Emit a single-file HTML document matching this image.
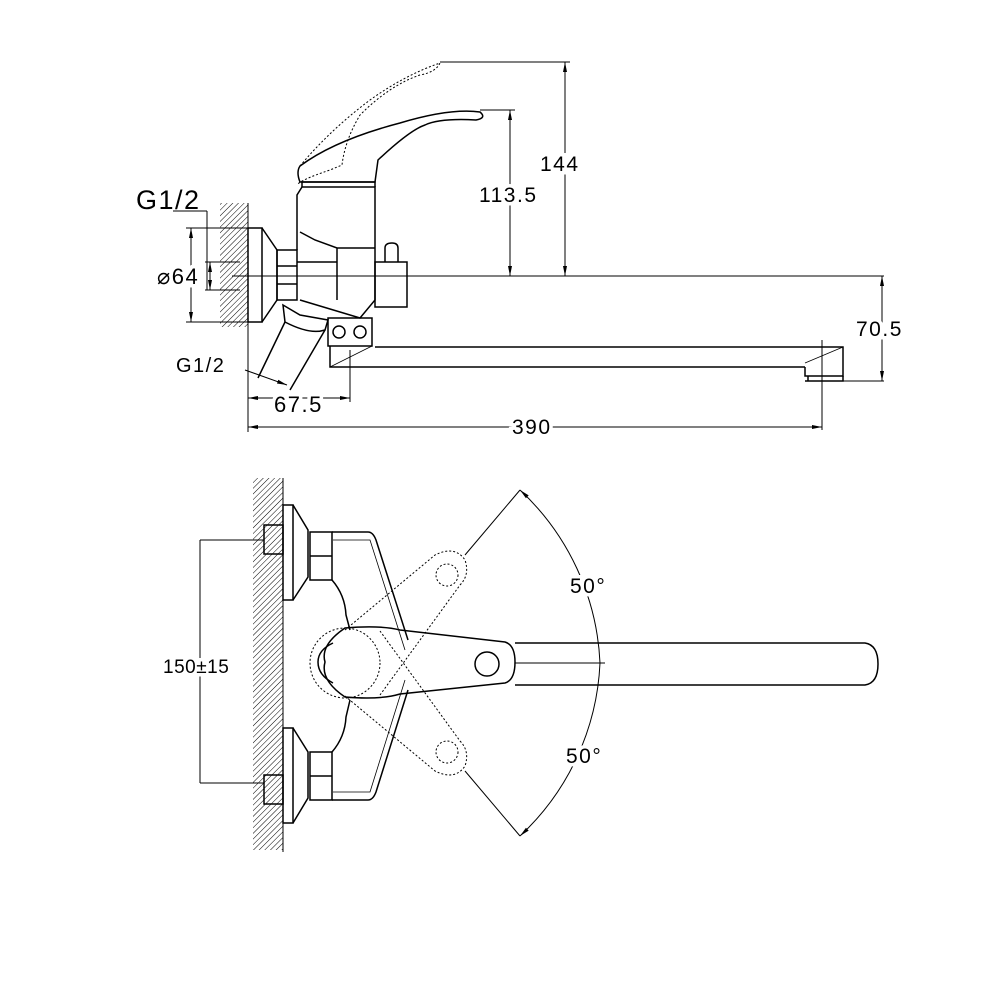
<!DOCTYPE html>
<html><head><meta charset="utf-8"><style>html,body{margin:0;padding:0;background:#fff}svg{display:block}text{font-family:"Liberation Sans",sans-serif;fill:#000;letter-spacing:1.5px}.w{paint-order:stroke;stroke:#fff;stroke-width:7px}</style></head>
<body>
<svg width="1000" height="1000" viewBox="0 0 1000 1000" xmlns="http://www.w3.org/2000/svg">
<defs>
<pattern id="h" width="4" height="4" patternUnits="userSpaceOnUse" patternTransform="rotate(45)">
<line x1="0" y1="0" x2="0" y2="4" stroke="#000" stroke-width="1"/></pattern>
<marker id="a" markerWidth="10" markerHeight="6" refX="10" refY="3" orient="auto-start-reverse" markerUnits="userSpaceOnUse"><path d="M0,1 L10,3 L0,5z" fill="#000"/></marker>
</defs>
<g fill="none" stroke="#000" stroke-width="1">
<!-- TOP VIEW -->
<rect x="220" y="203" width="28" height="124" fill="url(#h)" stroke="none"/>
<line x1="248" y1="203" x2="248" y2="432"/>
<g stroke-width="1.5">
<rect x="248" y="228" width="14" height="94"/>
<path d="M262,228 L277,250 L277,300 L262,322"/>
<path d="M277,250 L297,250 L297,300 L277,300 Z M277,266 H297 M277,284 H297"/>
<path d="M297,250 L297,195 L302,187 L375,187 L375,262 L375,300 L360,318 L300,300"/>
<path d="M302,187 L302,182 L375,182 L375,187"/>
<path d="M300,232 L315,240 L337,248 L375,248 M337,248 L337,300 M297,262 H337"/>
<rect x="375" y="262" width="32" height="45"/>
<path d="M385,262 V248 Q385,243 392,243 Q398,243 398,248 V262"/>
<path d="M300,166 Q335,140 400,123 Q450,108 480,112 Q487,118 476,120 Q440,118 425,125 Q410,130 378,160 L375,182 L300,182 Q296,172 300,166 Z"/>
<path d="M283,305 L300,315 L328,320 L325,330 Q310,335 285,322 Z"/>
<path d="M285,322 L258,378 M325,330 L290,390"/>
<rect x="328" y="318" width="44" height="28"/>
<circle cx="339" cy="332" r="6"/><circle cx="360" cy="332" r="6"/>
<path d="M330,346 L330,367 L805,367 M375,347 L805,347 L843,347 L843,376 L805,376 L805,367"/>
<path d="M805,381 H843 V376 M808,376 V381"/>
</g>
<path d="M330,367 L372,346 M805,363 L843,347" stroke-width="0.8"/>
<path d="M300,166 Q330,130 370,100 Q405,75 440,63 Q436,72 420,75 Q390,85 360,115 Q345,140 342,165 L330,170 Q300,180 297,185" stroke-dasharray="2,2"/>
<!-- dims -->
<line x1="440" y1="62" x2="570" y2="62"/>
<line x1="565" y1="62" x2="565" y2="276" marker-start="url(#a)" marker-end="url(#a)"/>
<line x1="480" y1="110" x2="515" y2="110"/>
<line x1="510" y1="110" x2="510" y2="276" marker-start="url(#a)" marker-end="url(#a)"/>
<line x1="232" y1="276" x2="884" y2="276"/>
<line x1="843" y1="381" x2="884" y2="381"/>
<line x1="882" y1="276" x2="882" y2="381" marker-start="url(#a)" marker-end="url(#a)"/>
<line x1="822" y1="340" x2="822" y2="430"/>
<line x1="248" y1="427" x2="822" y2="427" marker-start="url(#a)" marker-end="url(#a)"/>
<line x1="350" y1="350" x2="350" y2="402"/>
<line x1="248" y1="398" x2="350" y2="398" marker-start="url(#a)" marker-end="url(#a)"/>
<line x1="173" y1="211" x2="207" y2="211"/>
<line x1="207" y1="211" x2="207" y2="290"/>
<line x1="186" y1="228" x2="248" y2="228"/><line x1="186" y1="322" x2="248" y2="322"/>
<line x1="191" y1="228" x2="191" y2="322" marker-start="url(#a)" marker-end="url(#a)"/>
<line x1="205" y1="262" x2="240" y2="262"/><line x1="205" y1="290" x2="240" y2="290"/>
<line x1="210" y1="262" x2="210" y2="290" marker-start="url(#a)" marker-end="url(#a)"/>
<line x1="245" y1="370" x2="287" y2="385" marker-end="url(#a)"/>
</g>
<text x="136" y="209" font-size="27">G1/2</text>
<text x="157" y="284" font-size="22" class="w">⌀64</text>
<text x="176" y="372" font-size="20">G1/2</text>
<text x="274" y="412" font-size="22" class="w">67.5</text>
<text x="512" y="434" font-size="21" class="w">390</text>
<text x="479" y="202" font-size="21" class="w">113.5</text>
<text x="540" y="171" font-size="21" class="w">144</text>
<text x="856" y="336" font-size="21" class="w">70.5</text>

<!-- BOTTOM VIEW -->
<g fill="none" stroke="#000" stroke-width="1">
<rect x="253" y="478" width="30" height="372" fill="url(#h)" stroke="none"/>
<line x1="283" y1="478" x2="283" y2="852"/>
<g stroke-width="1.5">
<rect x="264" y="525" width="19" height="29"/><rect x="264" y="775" width="19" height="29"/>
<rect x="283" y="505" width="10" height="95"/><path d="M293,505 L308,530 L308,577 L293,600"/>
<rect x="283" y="728" width="10" height="95"/><path d="M293,728 L308,752 L308,798 L293,823"/>
<rect x="310" y="532" width="22" height="48"/><line x1="310" y1="556" x2="332" y2="556"/>
<rect x="310" y="752" width="22" height="48"/><line x1="310" y1="776" x2="332" y2="776"/>
<path d="M332,532 L368,532 Q373,532 376,540 L408,640 M332,580 Q345,595 346,615 L350,630"/>
<path d="M332,800 L368,800 Q373,800 376,792 L408,690 M332,752 Q345,737 346,717 L350,700"/>
<path d="M333,540 L370,540 L405,650 M333,792 L370,792 L405,680" stroke-width="0.8"/>
<path d="M345,628 Q380,625 400,630 L505,642 Q515,645 515,662 Q515,680 505,683 L400,694 Q380,700 345,697 Q320,680 325,662 Q320,645 345,628 Z"/>
<circle cx="487" cy="664" r="12"/>
<path d="M333,643 Q318,650 318,662 Q318,675 333,683"/>
<path d="M515,643 L865,643 Q878,645 878,664 Q878,683 865,685 L515,685"/>
</g>
<line x1="515" y1="663" x2="605" y2="663"/>
<circle cx="345" cy="663" r="35" stroke-dasharray="2,2"/>
<g stroke-dasharray="2,2">
<path d="M345,630 L435,555 Q455,545 465,560 Q470,575 460,585 L380,695"/>
<path d="M345,696 L435,771 Q455,781 465,766 Q470,751 460,741 L380,631"/>
<circle cx="447" cy="575" r="11"/><circle cx="447" cy="752" r="11"/>
</g>
<line x1="465" y1="555" x2="520" y2="490"/>
<line x1="465" y1="771" x2="520" y2="836"/>
<path d="M520,490 A252,252 0 0,1 600,663" marker-start="url(#a)"/>
<path d="M600,663 A252,252 0 0,1 520,836" marker-end="url(#a)"/>
<line x1="200" y1="540" x2="264" y2="540"/><line x1="200" y1="783" x2="264" y2="783"/>
<line x1="200" y1="540" x2="200" y2="783"/>
</g>
<text x="163" y="673" font-size="19" class="w" style="letter-spacing:0.5px">150±15</text>
<text x="570" y="593" font-size="21" class="w">50°</text>
<text x="566" y="763" font-size="21" class="w">50°</text>
</svg>
</body></html>
